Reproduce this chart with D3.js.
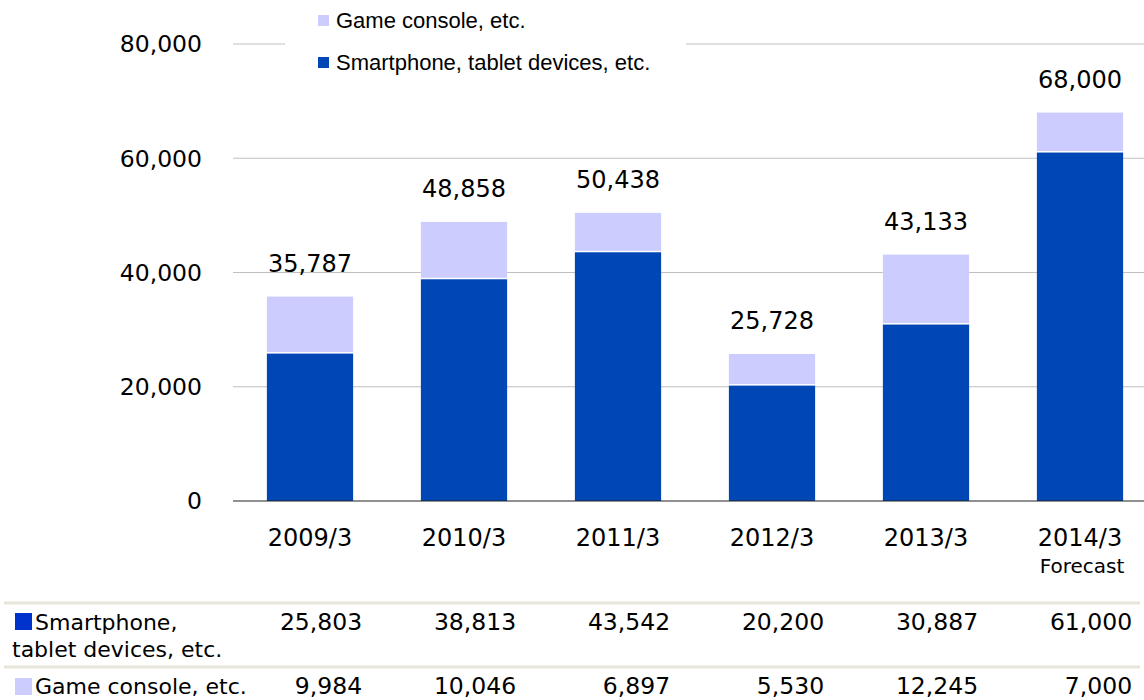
<!DOCTYPE html>
<html>
<head>
<meta charset="utf-8">
<script src="https://cdn.jsdelivr.net/npm/d3@7"></script>
<style>
  body { margin: 0; background: #fff; }
  svg { display: block; }
</style>
</head>
<body>
<div id="chart"></div>
<script>
// chart data
const periods = ["2009/3", "2010/3", "2011/3", "2012/3", "2013/3", "2014/3"];
const smartphone = [25803, 38813, 43542, 20200, 30887, 61000];
const gameConsole = [9984, 10046, 6897, 5530, 12245, 7000];
const totals = [35787, 48858, 50438, 25728, 43133, 68000];
const yTicks = [0, 20000, 40000, 60000, 80000];

const width = 1144, height = 700;
const darkBlue = "#0047b5", lightBlue = "#ccccff";
const verdana = "'DejaVu Sans'";

const svg = d3.select("#chart").append("svg")
    .attr("width", width)
    .attr("height", height);

let x = d3.scaleBand()
    .domain(periods)
    .range([233, 1157])
    .paddingInner(0.44)
    .paddingOuter(0.22);

let y = d3.scaleLinear()
    .domain([0, 80000])
    .range([501, 44]);

let fmt = d3.format(",");

// gridlines
svg.append("g").selectAll("line")
    .data(yTicks.filter(d => d > 0))
    .enter().append("line")
    .attr("x1", 233).attr("x2", width)
    .attr("y1", d => y(d)).attr("y2", d => y(d))
    .attr("stroke", "#c0c0c0")
    .attr("stroke-width", 1.2);

// y labels
svg.append("g").selectAll("text")
    .data(yTicks)
    .enter().append("text")
    .attr("x", 202)
    .attr("y", d => y(d))
    .attr("dy", "0.36em")
    .attr("text-anchor", "end")
    .style("font-family", verdana)
    .style("font-size", "23.5px")
    .attr("fill", "#000")
    .text(d => fmt(d));

// stacked bars
let rows = periods.map((p, i) => ({ period: p, sp: smartphone[i], gc: gameConsole[i], total: totals[i] }));
let bars = svg.append("g").selectAll("g")
    .data(rows)
    .enter().append("g");

bars.append("rect")
    .attr("x", d => x(d.period))
    .attr("width", x.bandwidth())
    .attr("y", d => y(d.sp))
    .attr("height", d => y(0) - y(d.sp))
    .attr("fill", darkBlue);

bars.append("rect")
    .attr("x", d => x(d.period))
    .attr("width", x.bandwidth())
    .attr("y", d => y(d.sp + d.gc))
    .attr("height", d => y(d.sp) - y(d.sp + d.gc) - 1.5)
    .attr("fill", lightBlue);

// totals
bars.append("text")
    .attr("x", d => x(d.period) + x.bandwidth() / 2)
    .attr("y", d => y(d.sp + d.gc) - 25)
    .attr("text-anchor", "middle")
    .style("font-family", verdana)
    .style("font-size", "24px")
    .text(d => fmt(d.total));

// baseline
svg.append("line")
    .attr("x1", 233).attr("x2", width)
    .attr("y1", y(0)).attr("y2", y(0))
    .attr("stroke", "#222")
    .attr("stroke-width", 1.2);

// category labels
svg.append("g").selectAll("text")
    .data(periods)
    .enter().append("text")
    .attr("x", d => x(d) + x.bandwidth() / 2)
    .attr("y", 546)
    .attr("text-anchor", "middle")
    .style("font-family", verdana)
    .style("font-size", "24px")
    .text(d => d);

svg.append("text")
    .attr("x", x(periods[5]) + x.bandwidth() / 2 + 2)
    .attr("y", 573)
    .attr("text-anchor", "middle")
    .style("font-family", verdana)
    .style("font-size", "20px")
    .text("Forecast");

// legend
let legend = svg.append("g");
legend.append("rect")
    .attr("x", 285).attr("y", 0).attr("width", 401).attr("height", 82)
    .attr("fill", "#fff");
let legendItems = [
    { label: "Game console, etc.", color: lightBlue, cy: 20 },
    { label: "Smartphone, tablet devices, etc.", color: darkBlue, cy: 62 }
];
legend.selectAll("rect.key")
    .data(legendItems)
    .enter().append("rect")
    .attr("class", "key")
    .attr("x", 318).attr("y", d => d.cy - 5)
    .attr("width", 11).attr("height", 11)
    .attr("fill", d => d.color);
legend.selectAll("text")
    .data(legendItems)
    .enter().append("text")
    .attr("x", 336).attr("y", d => d.cy)
    .attr("dy", "0.36em")
    .style("font-family", "'Liberation Sans'")
    .style("font-size", "22px")
    .text(d => d.label);

// data table
let table = svg.append("g");
[603, 667].forEach(yy => {
    table.append("line")
        .attr("x1", 4).attr("x2", 1140)
        .attr("y1", yy).attr("y2", yy)
        .attr("stroke", "#e8e6da")
        .attr("stroke-width", 3);
});

table.append("rect").attr("x", 15).attr("y", 613).attr("width", 17).attr("height", 17).attr("fill", "#0033cc");
table.append("rect").attr("x", 15).attr("y", 678).attr("width", 17).attr("height", 17).attr("fill", lightBlue);
let labelFont = sel => sel.style("font-family", verdana).style("font-size", "22px");
table.append("text").attr("x", 35).attr("y", 630).call(labelFont).text("Smartphone,");
table.append("text").attr("x", 12).attr("y", 657).call(labelFont).text("tablet devices, etc.");
table.append("text").attr("x", 35).attr("y", 694).call(labelFont).text("Game console, etc.");

let colRight = p => x(p) + x.bandwidth() + 9;
let numFont = sel => sel.style("font-family", verdana).style("font-size", "23.5px");
table.append("g").selectAll("text")
    .data(periods)
    .enter().append("text")
    .attr("x", d => colRight(d))
    .attr("y", 630)
    .attr("text-anchor", "end")
    .call(numFont)
    .text((d, i) => fmt(smartphone[i]));
table.append("g").selectAll("text")
    .data(periods)
    .enter().append("text")
    .attr("x", d => colRight(d))
    .attr("y", 694)
    .attr("text-anchor", "end")
    .call(numFont)
    .text((d, i) => fmt(gameConsole[i]));
</script>
</body>
</html>
